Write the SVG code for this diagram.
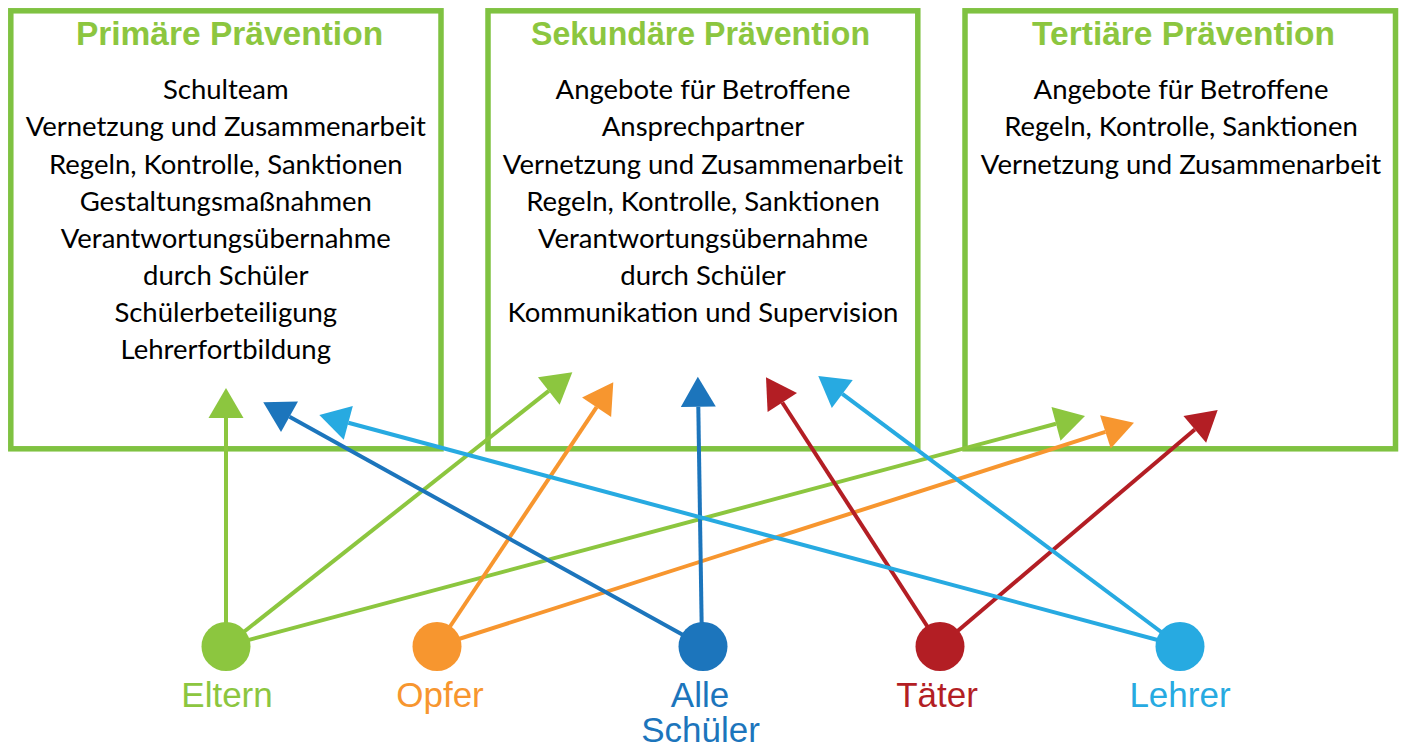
<svg xmlns="http://www.w3.org/2000/svg" width="1401" height="747" viewBox="0 0 1401 747">
<style>
.box{fill:#fff;stroke:#7fc241;stroke-width:5.5}
.title{font-family:"Liberation Sans",Arial,sans-serif;font-weight:bold;font-size:33.5px;fill:#8cc63f;text-anchor:middle}
.body{font-family:Lato,"Open Sans",sans-serif;font-size:27.5px;fill:#000;text-anchor:middle}
.lbl{font-family:"Liberation Sans",Arial,sans-serif;font-size:35px;text-anchor:middle}
.c{fill:none;stroke-width:4}
.g{stroke:#8cc63f}.o{stroke:#f7962f}.b{stroke:#1c75bc}.r{stroke:#b31e24}.l{stroke:#27aae1}
</style>
<defs>
<marker id="mg" markerUnits="userSpaceOnUse" markerWidth="30" markerHeight="35" refX="0" refY="17.5" orient="auto" overflow="visible"><path d="M0,0L30,17.5L0,35Z" fill="#8cc63f"/></marker>
<marker id="mo" markerUnits="userSpaceOnUse" markerWidth="30" markerHeight="35" refX="0" refY="17.5" orient="auto" overflow="visible"><path d="M0,0L30,17.5L0,35Z" fill="#f7962f"/></marker>
<marker id="mb" markerUnits="userSpaceOnUse" markerWidth="30" markerHeight="35" refX="0" refY="17.5" orient="auto" overflow="visible"><path d="M0,0L30,17.5L0,35Z" fill="#1c75bc"/></marker>
<marker id="mr" markerUnits="userSpaceOnUse" markerWidth="30" markerHeight="35" refX="0" refY="17.5" orient="auto" overflow="visible"><path d="M0,0L30,17.5L0,35Z" fill="#b31e24"/></marker>
<marker id="ml" markerUnits="userSpaceOnUse" markerWidth="30" markerHeight="35" refX="0" refY="17.5" orient="auto" overflow="visible"><path d="M0,0L30,17.5L0,35Z" fill="#27aae1"/></marker>
</defs>
<rect width="1401" height="747" fill="#fff"/>
<g id="primaer">
<rect class="box" x="10.8" y="10.8" width="430.2" height="438"/>
<text class="title" x="229.5" y="45">Primäre Prävention</text>
<text class="body"><tspan x="225.8" y="99.3">Schulteam</tspan><tspan x="225.8" y="136.4">Vernetzung und Zusammenarbeit</tspan><tspan x="225.8" y="173.5">Regeln, Kontrolle, Sanktionen</tspan><tspan x="225.8" y="210.6">Gestaltungsmaßnahmen</tspan><tspan x="225.8" y="247.7">Verantwortungsübernahme</tspan><tspan x="225.8" y="284.8">durch Schüler</tspan><tspan x="225.8" y="321.9">Schülerbeteiligung</tspan><tspan x="225.8" y="359">Lehrerfortbildung</tspan></text>
</g>
<g id="sekundaer">
<rect class="box" x="488" y="10.8" width="429.8" height="438"/>
<text class="title" x="700.5" y="45" textLength="339" lengthAdjust="spacingAndGlyphs">Sekundäre Prävention</text>
<text class="body"><tspan x="703" y="99.3">Angebote für Betroffene</tspan><tspan x="703" y="136.4">Ansprechpartner</tspan><tspan x="703" y="173.5">Vernetzung und Zusammenarbeit</tspan><tspan x="703" y="210.6">Regeln, Kontrolle, Sanktionen</tspan><tspan x="703" y="247.7">Verantwortungsübernahme</tspan><tspan x="703" y="284.8">durch Schüler</tspan><tspan x="703" y="321.9">Kommunikation und Supervision</tspan></text>
</g>
<g id="tertiaer">
<rect class="box" x="965" y="10.8" width="430.5" height="438"/>
<text class="title" x="1183.5" y="45">Tertiäre Prävention</text>
<text class="body"><tspan x="1181" y="99.3">Angebote für Betroffene</tspan><tspan x="1181" y="136.4">Regeln, Kontrolle, Sanktionen</tspan><tspan x="1181" y="173.5">Vernetzung und Zusammenarbeit</tspan></text>
</g>
<g id="connectors">
<line class="c g" x1="226" y1="646" x2="226" y2="418" marker-end="url(#mg)"/>
<line class="c g" x1="226" y1="646" x2="548.8" y2="390.9" marker-end="url(#mg)"/>
<line class="c g" x1="226" y1="646" x2="1056" y2="423.8" marker-end="url(#mg)"/>
<line class="c o" x1="437" y1="646" x2="596.6" y2="407.2" marker-end="url(#mo)"/>
<line class="c o" x1="437" y1="646" x2="1105.4" y2="431.9" marker-end="url(#mo)"/>
<line class="c b" x1="703" y1="646" x2="289.5" y2="416.8" marker-end="url(#mb)"/>
<line class="c b" x1="702" y1="646" x2="698.3" y2="406.7" marker-end="url(#mb)"/>
<line class="c r" x1="940" y1="646" x2="782.3" y2="402.5" marker-end="url(#mr)"/>
<line class="c r" x1="940" y1="646" x2="1194.8" y2="429.4" marker-end="url(#mr)"/>
<line class="c l" x1="1180" y1="646" x2="842.3" y2="393.9" marker-end="url(#ml)"/>
<line class="c l" x1="1180" y1="646" x2="348.3" y2="422.8" marker-end="url(#ml)"/>
</g>
<g id="eltern"><circle cx="226" cy="646.5" r="24.5" fill="#8cc63f"/><text class="lbl" x="227" y="707" fill="#8cc63f">Eltern</text></g>
<g id="opfer"><circle cx="437" cy="646.5" r="24.5" fill="#f7962f"/><text class="lbl" x="440" y="707" fill="#f7962f">Opfer</text></g>
<g id="alle-schueler"><circle cx="703" cy="646.5" r="24.5" fill="#1c75bc"/><text class="lbl" fill="#1c75bc"><tspan x="700" y="707">Alle</tspan><tspan x="700.5" y="742">Schüler</tspan></text></g>
<g id="taeter"><circle cx="940" cy="646.5" r="24.5" fill="#b31e24"/><text class="lbl" x="937" y="707" fill="#b31e24">Täter</text></g>
<g id="lehrer"><circle cx="1180" cy="646.5" r="24.5" fill="#27aae1"/><text class="lbl" x="1180" y="707" fill="#27aae1">Lehrer</text></g>
</svg>
